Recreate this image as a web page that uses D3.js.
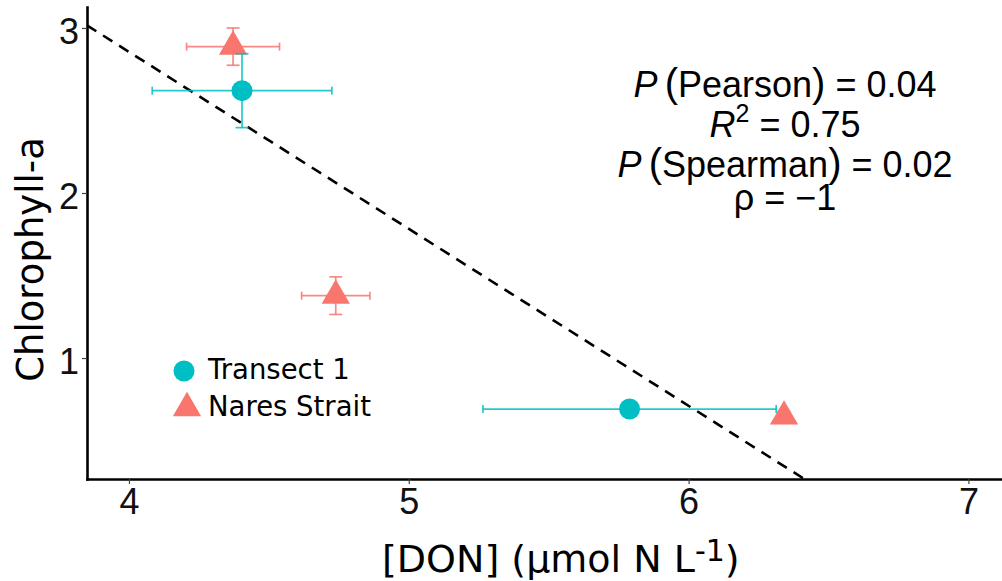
<!DOCTYPE html>
<html>
<head>
<meta charset="utf-8">
<script src="https://cdn.jsdelivr.net/npm/d3@7"></script>
<style>
  html, body { margin: 0; padding: 0; background: #ffffff; }
  svg { display: block; }
</style>
</head>
<body>
<svg id="chart" width="1002" height="581"></svg>
<script>
// Series names and colours
const categories = ["Transect 1", "Nares Strait"];
const seriesColors = ["#00BFC4", "#F8766D"];

// Transect 1: mean DON, its SD, mean chlorophyll-a, its SD
const transectDON = [4.404, 5.789];
const transectDONErr = [0.321, 0.524];
const transectChl = [2.62, 0.691];
const transectChlErr = [0.224, 0.03];

// Nares Strait
const naresDON = [4.372, 4.739, 6.341];
const naresDONErr = [0.166, 0.122, 0.02];
const naresChl = [2.887, 1.378, 0.646];
const naresChlErr = [0.113, 0.114, 0.03];

// Axis ticks and limits
const xTicks = [4, 5, 6, 7];
const yTicks = [1, 2, 3];
const xLimits = [3.85, 7.12];
const yLimits = [0.267, 3.127];

// Statistics printed in the corner
const pPearson = "0.04";
const rSquared = "0.75";
const pSpearman = "0.02";
const rhoValue = "1";

const svg = d3.select("#chart");
const plot = { left: 87, right: 1002, top: 7, bottom: 479 };

const x = d3.scaleLinear().domain(xLimits).range([plot.left, plot.right]);
const y = d3.scaleLinear().domain(yLimits).range([plot.bottom, plot.top]);

const tickFont = "'Liberation Sans', Arial, sans-serif";
const titleFont = "'DejaVu Sans', Verdana, sans-serif";

// Clip region for the regression line
svg.append("clipPath").attr("id", "plot-clip")
  .append("rect")
  .attr("x", plot.left).attr("y", plot.top)
  .attr("width", plot.right - plot.left).attr("height", plot.bottom - plot.top);

// Least-squares fit over all stations
const allX = transectDON.concat(naresDON);
const allY = transectChl.concat(naresChl);
const mx = d3.mean(allX), my = d3.mean(allY);
const slope = d3.sum(allX, (v, i) => (v - mx) * (allY[i] - my)) / d3.sum(allX, v => (v - mx) * (v - mx));
const intercept = my - slope * mx;

svg.append("line")
  .attr("clip-path", "url(#plot-clip)")
  .attr("x1", x(xLimits[0])).attr("y1", y(intercept + slope * xLimits[0]))
  .attr("x2", x(xLimits[1])).attr("y2", y(intercept + slope * xLimits[1]))
  .attr("stroke", "#000").attr("stroke-width", 2.6)
  .attr("stroke-dasharray", "11,8");

// Build grouped records
function makeSeries(name, color, symbol, xs, xe, ys, ye) {
  return { name, color, symbol, pts: xs.map((v, i) => ({ x: v, xe: xe[i], y: ys[i], ye: ye[i] })) };
}
const series = [
  makeSeries(categories[1], seriesColors[1], d3.symbolTriangle, naresDON, naresDONErr, naresChl, naresChlErr),
  makeSeries(categories[0], seriesColors[0], d3.symbolCircle, transectDON, transectDONErr, transectChl, transectChlErr)
];

const capV = 6.5;   // half width of vertical error-bar caps
const capH = 4;     // half height of horizontal error-bar caps
const symbolSize = 346;

series.forEach(s => {
  const g = svg.append("g");
  const bars = g.append("g")
    .attr("stroke", s.color).attr("stroke-width", 1.7).attr("stroke-opacity", 0.85).attr("fill", "none");
  s.pts.forEach(p => {
    // horizontal bar
    bars.append("line").attr("x1", x(p.x - p.xe)).attr("x2", x(p.x + p.xe)).attr("y1", y(p.y)).attr("y2", y(p.y));
    bars.append("line").attr("x1", x(p.x - p.xe)).attr("x2", x(p.x - p.xe)).attr("y1", y(p.y) - capH).attr("y2", y(p.y) + capH);
    bars.append("line").attr("x1", x(p.x + p.xe)).attr("x2", x(p.x + p.xe)).attr("y1", y(p.y) - capH).attr("y2", y(p.y) + capH);
    // vertical bar
    bars.append("line").attr("x1", x(p.x)).attr("x2", x(p.x)).attr("y1", y(p.y - p.ye)).attr("y2", y(p.y + p.ye));
    bars.append("line").attr("x1", x(p.x) - capV).attr("x2", x(p.x) + capV).attr("y1", y(p.y - p.ye)).attr("y2", y(p.y - p.ye));
    bars.append("line").attr("x1", x(p.x) - capV).attr("x2", x(p.x) + capV).attr("y1", y(p.y + p.ye)).attr("y2", y(p.y + p.ye));
  });
  g.selectAll("path.pt").data(s.pts).join("path")
    .attr("class", "pt")
    .attr("d", d3.symbol().type(s.symbol).size(symbolSize))
    .attr("transform", p => `translate(${x(p.x)},${y(p.y)})`)
    .attr("fill", s.color);
});

// Axes
const xAxis = svg.append("g")
  .attr("transform", `translate(0,${plot.bottom})`)
  .call(d3.axisBottom(x).tickValues(xTicks).tickSize(5).tickSizeOuter(0).tickPadding(4).tickFormat(d3.format("d")));
const yAxis = svg.append("g")
  .attr("transform", `translate(${plot.left},0)`)
  .call(d3.axisLeft(y).tickValues(yTicks).tickSize(5).tickSizeOuter(0).tickPadding(3).tickFormat(d3.format("d")));

[xAxis, yAxis].forEach(a => {
  a.select(".domain").attr("stroke", "#000").attr("stroke-width", 2.6).attr("stroke-linecap", "square");
  a.selectAll(".tick line").attr("stroke", "#444").attr("stroke-width", 1.2);
  a.selectAll(".tick text").attr("fill", "#111").style("font-family", tickFont).style("font-size", "36px");
});
yAxis.selectAll(".tick text").attr("dy", "0.43em");

// Axis titles
const xTitle = svg.append("text")
  .attr("x", 382).attr("y", 571.5)
  .style("font-family", titleFont).style("font-size", "38px").attr("fill", "#000");
xTitle.append("tspan").text("[DON] (μmol N L");
xTitle.append("tspan").attr("dy", -11).style("font-size", "30px").text("-1");
xTitle.append("tspan").attr("dy", 11).text(")");

svg.append("text")
  .attr("transform", "translate(43,259.5) rotate(-90)")
  .attr("text-anchor", "middle")
  .style("font-family", titleFont).style("font-size", "37px").attr("fill", "#000")
  .text("Chlorophyll-a");

// Legend
const legendRows = [
  { name: categories[0], color: seriesColors[0], symbol: d3.symbolCircle, cx: 184, cy: 371, ty: 379 },
  { name: categories[1], color: seriesColors[1], symbol: d3.symbolTriangle, cx: 187, cy: 408, ty: 415.5 }
];
const legend = svg.append("g");
legendRows.forEach(r => {
  legend.append("path")
    .attr("d", d3.symbol().type(r.symbol).size(symbolSize))
    .attr("transform", `translate(${r.cx},${r.cy})`)
    .attr("fill", r.color);
  legend.append("text")
    .attr("x", 208).attr("y", r.ty)
    .style("font-family", titleFont).style("font-size", "27.5px").attr("fill", "#000")
    .text(r.name);
});

// Statistics block
const stats = svg.append("g")
  .style("font-family", tickFont).style("font-size", "36px").attr("fill", "#000")
  .attr("text-anchor", "middle");
const cx = 785;

const l1 = stats.append("text").attr("x", cx).attr("y", 97);
l1.append("tspan").style("font-style", "italic").text("P");
l1.append("tspan").text("\u2009");
l1.append("tspan").style("font-size", "40px").text("(");
l1.append("tspan").text("Pearson");
l1.append("tspan").style("font-size", "40px").text(")");
l1.append("tspan").text(" = " + pPearson);

const l2 = stats.append("text").attr("x", cx).attr("y", 137);
l2.append("tspan").style("font-style", "italic").text("R");
l2.append("tspan").attr("dy", -15).style("font-size", "25px").text("2");
l2.append("tspan").attr("dy", 15).text(" = " + rSquared);

const l3 = stats.append("text").attr("x", cx).attr("y", 177);
l3.append("tspan").style("font-style", "italic").text("P");
l3.append("tspan").text("\u2009");
l3.append("tspan").style("font-size", "40px").text("(");
l3.append("tspan").text("Spearman");
l3.append("tspan").style("font-size", "40px").text(")");
l3.append("tspan").text(" = " + pSpearman);

const l4 = stats.append("text").attr("x", cx).attr("y", 210);
l4.append("tspan").text("ρ = \u2212" + rhoValue);
</script>
</body>
</html>
